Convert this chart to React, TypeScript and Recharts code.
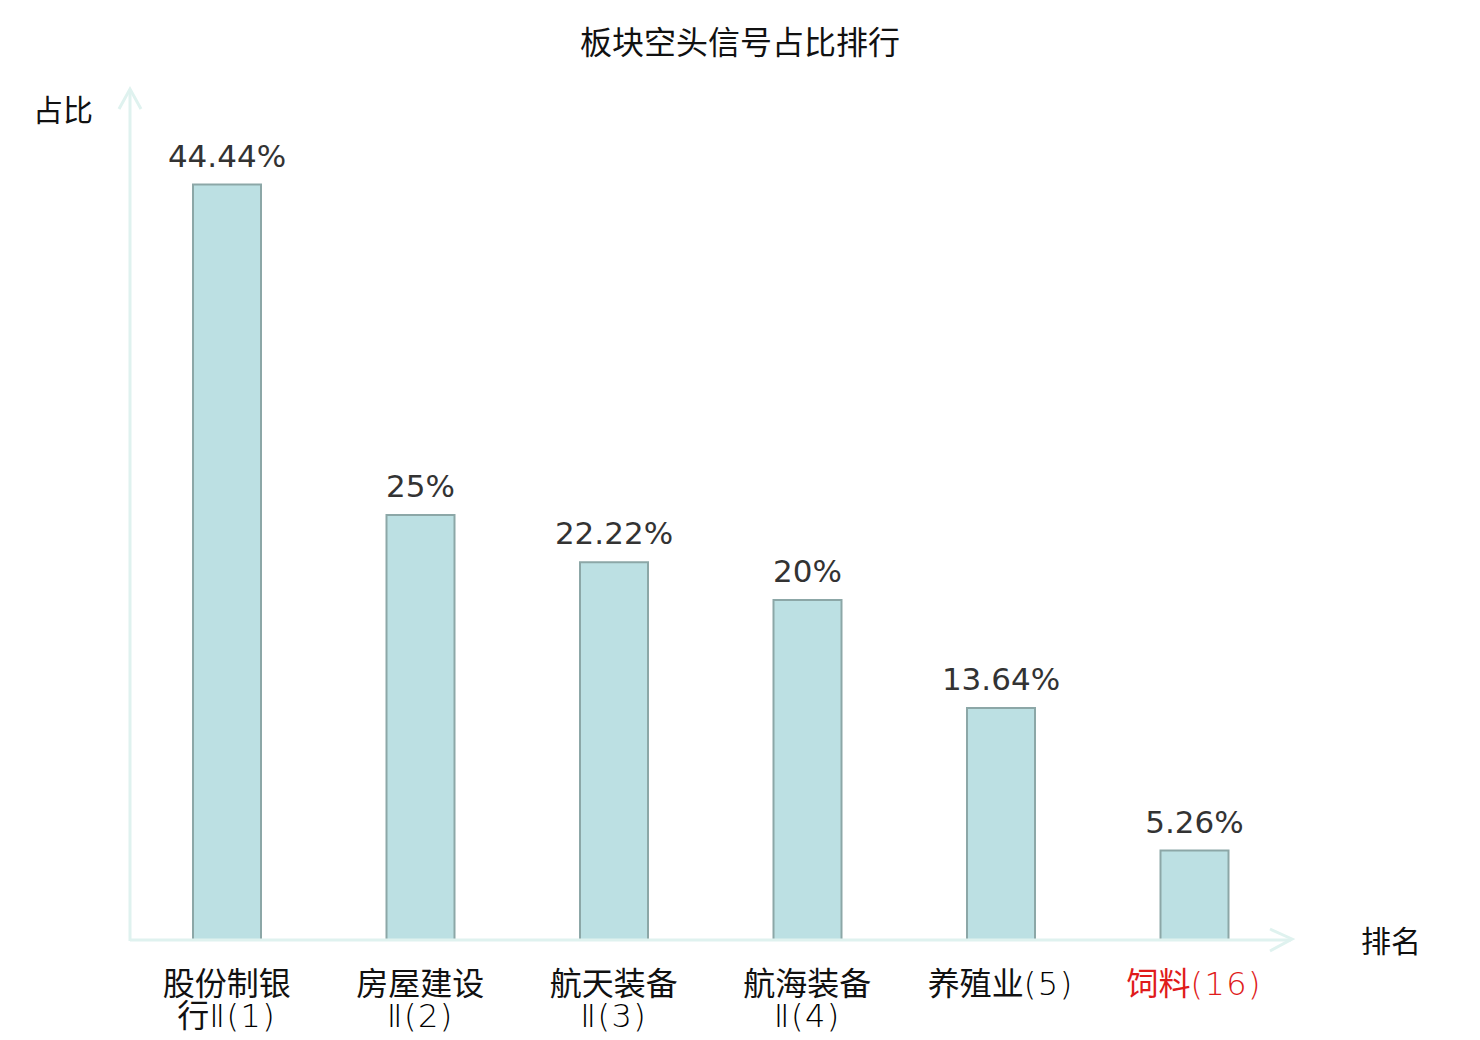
import React from 'react';
import { BarChart, Bar, XAxis, YAxis, LabelList } from 'recharts';

// Ranking of short-signal share by sector
const categories = ['股份制银行Ⅱ(1)', '房屋建设Ⅱ(2)', '航天装备Ⅱ(3)', '航海装备Ⅱ(4)', '养殖业(5)', '饲料(16)'];
const shares = [44.44, 25, 22.22, 20, 13.64, 5.26];
const highlighted = ['饲料(16)'];

const title = '板块空头信号占比排行';
const yName = '占比';
const xName = '排名';

const W = 1480;
const H = 1040;
const margin = { top: 90, right: 189, left: 130, bottom: 0 };
const axisColor = '#dff2ef';
const cjkFont = '"Noto Sans CJK SC", "Noto Sans", sans-serif';
const latinFont = '"DejaVu Sans", sans-serif';

const data = categories.map((name, i) => ({ name, value: shares[i] }));

// split long names over two lines, 4 chars on the first
const splitName = (s: string) => (s.length > 6 ? [s.slice(0, 4), s.slice(4)] : [s]);
// CJK runs and latin runs get different fonts
const runs = (s: string) => s.match(/[\u4e00-\u9fff]+|[^\u4e00-\u9fff]+/g) || [];
const isCjk = (s: string) => /[\u4e00-\u9fff]/.test(s);

const CategoryTick = (props: any) => {
  const { x, y, payload } = props;
  const lines = splitName(payload.value);
  const color = highlighted.includes(payload.value) ? '#e01b1b' : '#111';
  return (
    <text x={x} y={y + 47} textAnchor="middle" fontSize={32} fill={color}>
      {lines.map((l, i) => (
        <tspan key={i} x={x} dy={i === 0 ? 0 : 32}>
          {runs(l).map((r, j) =>
            isCjk(r) ? (
              <tspan key={j} fontFamily={cjkFont}>{r}</tspan>
            ) : (
              <tspan key={j} fontFamily={latinFont} fontWeight={200} letterSpacing={1.5} fill={color === '#111' ? '#000' : color}>{r}</tspan>
            )
          )}
        </tspan>
      ))}
    </text>
  );
};

const App = () => {
  const plotRight = W - margin.right;
  const plotBottom = 940;
  return (
    <div style={{ position: 'absolute', left: 0, top: 0, width: W, height: H, background: '#fff' }}>
      <BarChart width={W} height={H} data={data} margin={margin}>
        <XAxis
          dataKey="name"
          height={100}
          interval={0}
          tickLine={false}
          axisLine={{ stroke: axisColor, strokeWidth: 3 }}
          tick={<CategoryTick />}
        />
        <YAxis hide domain={[0, 50]} />
        <Bar dataKey="value" barSize={68} fill="#bce0e3" stroke="#8ca7a7" strokeWidth={2} isAnimationActive={false}>
          <LabelList
            dataKey="value"
            position="top"
            offset={18}
            formatter={(v: any) => `${v}%`}
            style={{ fontSize: 31, fontFamily: latinFont, fill: '#333' }}
          />
        </Bar>
      </BarChart>
      <svg width={W} height={H} style={{ position: 'absolute', left: 0, top: 0, pointerEvents: 'none' }}>
        <line x1={margin.left} y1={plotBottom + 1} x2={margin.left} y2={89} stroke={axisColor} strokeWidth={3} />
        <polyline
          points={`${margin.left - 11},109 ${margin.left},89 ${margin.left + 11},109`}
          fill="none" stroke={axisColor} strokeWidth={3}
        />
        <polyline
          points={`${plotRight - 21},929 ${plotRight + 1},${plotBottom - 1} ${plotRight - 21},951`}
          fill="none" stroke={axisColor} strokeWidth={3}
        />
        <text x={740} y={54} textAnchor="middle" fontSize={32} fontFamily={cjkFont} fill="#111">{title}</text>
        <text x={63} y={121} textAnchor="middle" fontSize={30} fontFamily={cjkFont} fill="#111">{yName}</text>
        <text x={1391} y={952} textAnchor="middle" fontSize={30} fontFamily={cjkFont} fill="#111">{xName}</text>
      </svg>
    </div>
  );
};

export default App;
